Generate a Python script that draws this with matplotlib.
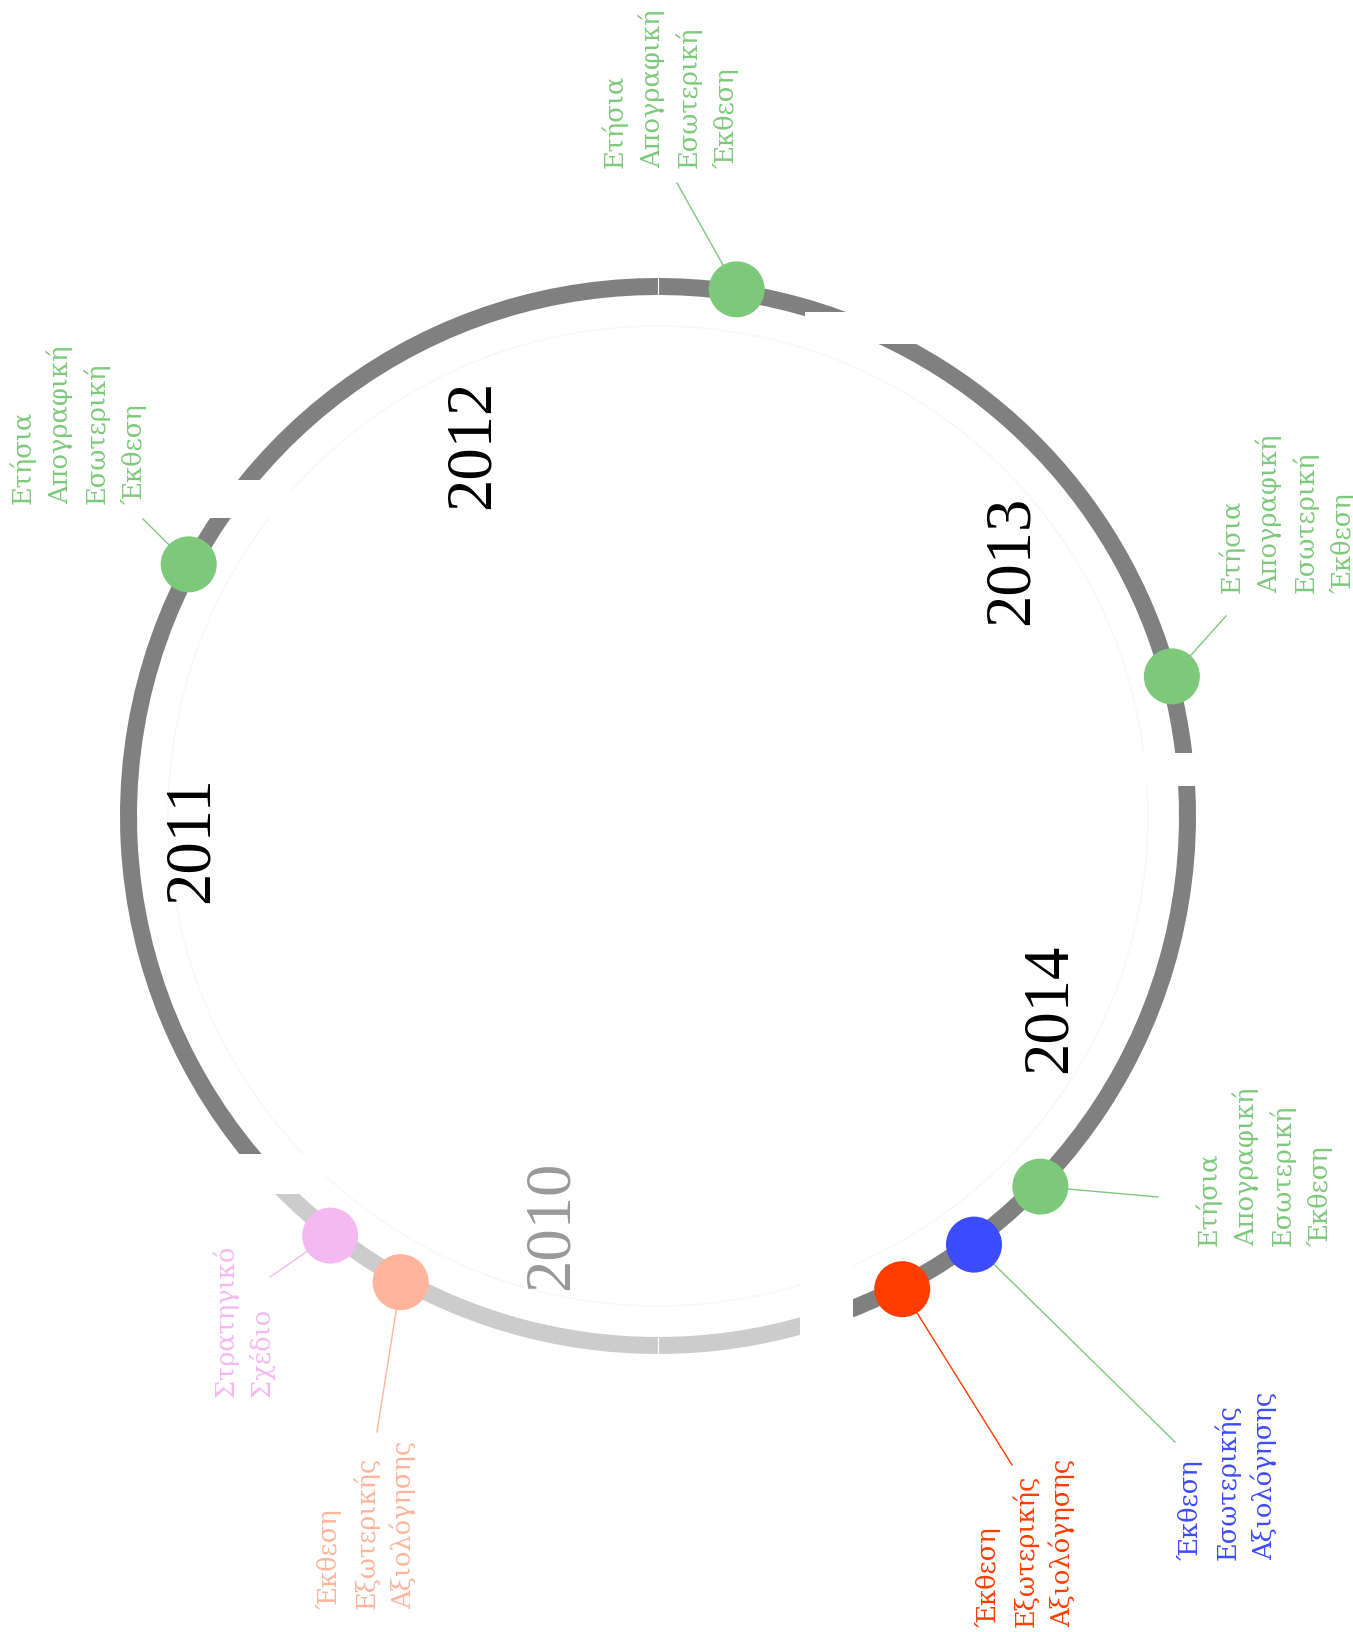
import numpy as np
import matplotlib
matplotlib.use('Agg')
import matplotlib.pyplot as plt
from matplotlib.patches import Wedge, Circle, Rectangle

# --- data (angles in screen degrees, clockwise from 3 o'clock) ---
years = ['2010', '2011', '2012', '2013', '2014']
year_bounds = [71.4, 137.5, 216.8, 292.7, 355.0, 431.4]   # start of each year, end of last
year_past = [True, False, False, False, False]

event_labels = [
    'Έκθεση\nΕξωτερικής\nΑξιολόγησης',
    'Στρατηγικό\nΣχέδιο',
    'Ετήσια\nΑπογραφική\nΕσωτερική\nΈκθεση',
    'Ετήσια\nΑπογραφική\nΕσωτερική\nΈκθεση',
    'Ετήσια\nΑπογραφική\nΕσωτερική\nΈκθεση',
    'Ετήσια\nΑπογραφική\nΕσωτερική\nΈκθεση',
    'Έκθεση\nΕσωτερικής\nΑξιολόγησης',
    'Έκθεση\nΕξωτερικής\nΑξιολόγησης',
]
event_angles = [118.9, 128.0, 208.2, 278.5, 344.8, 404.1, 413.6, 422.7]
event_colors = ['#ffb59b', '#f4b9f0', '#7dc97a', '#7dc97a', '#7dc97a', '#7dc97a', '#3d4bff', '#ff3d00']
leader_colors = ['#ffb59b', '#f4b9f0', '#7dc97a', '#7dc97a', '#7dc97a', '#7dc97a', '#7dc97a', '#ff3d00']

# --- layout (pixels, y down) ---
W, H = 1353, 1632
cx, cy = 658, 816
r_out, ring_w = 538, 17
r_mid = r_out - ring_w / 2
marker_r = 28

# gaps between years: (angle, size, orientation of the white band)
gaps = [(71.4, 53, 'v'), (137.5, 40, 'h'), (216.8, 38, 'h'), (292.7, 32, 'h'), (355.0, 33, 'h')]

# leader end points and label corners (lower left of rotated text box)
leader_ends = [(377, 1432), (270, 1277), (143, 519), (677, 183), (1226, 616), (1158, 1197), (1175, 1442), (1012, 1465)]
label_corner = [(316, 1609), (212, 1397), (9, 504), (601, 168), (1218, 593), (1195, 1246), (1177, 1560), (975, 1627)]
year_pos = [(552, 1225), (192, 840), (473, 444), (1012, 560), (1050, 1008)]


def polar(angle, r):
    a = np.radians(angle)
    return cx + r * np.cos(a), cy + r * np.sin(a)


fig = plt.figure(figsize=(W / 100, H / 100), dpi=100)
ax = fig.add_axes([0, 0, 1, 1])
ax.set_xlim(0, W)
ax.set_ylim(H, 0)
ax.axis('off')

# faint guide circle
ax.add_patch(Circle((cx, cy), 490, fill=False, ec='#f7f7f7', lw=1, zorder=0))

# year arcs
for i, yr in enumerate(years):
    col = '#cccccc' if year_past[i] else '#808080'
    ax.add_patch(Wedge((cx, cy), r_out, year_bounds[i], year_bounds[i + 1],
                       width=ring_w, fc=col, ec='none', zorder=1))

# white gaps cut across the ring
for ang, size, orient in gaps:
    gx, gy = polar(ang, r_mid)
    if orient == 'h':
        ax.add_patch(Rectangle((gx - 57, gy - size / 2), 114, size, fc='white', ec='none', zorder=2))
    else:
        ax.add_patch(Rectangle((gx - size / 2, gy - 57), size, 114, fc='white', ec='none', zorder=2))

# hairline joins at top and bottom
for ang in [90, 270]:
    x0, y0 = polar(ang, r_out - ring_w - 1)
    x1, y1 = polar(ang, r_out + 1)
    ax.plot([x0, x1], [y0, y1], color='white', lw=0.8, zorder=2)

# events
for i, lab in enumerate(event_labels):
    mx, my = polar(event_angles[i], r_mid + 3)
    ex, ey = leader_ends[i]
    ax.plot([mx, ex], [my, ey], color=leader_colors[i], lw=1, zorder=3)
    ax.add_patch(Circle((mx, my), marker_r, fc=event_colors[i], ec='none', zorder=4))
    tx, ty = label_corner[i]
    ax.text(tx, ty, lab, rotation=90, ha='left', va='bottom', color=event_colors[i],
            fontsize=18.5, family='DejaVu Serif', linespacing=1.5, multialignment='left', zorder=5)

# year labels
for i, yr in enumerate(years):
    x, y = year_pos[i]
    ax.text(x, y, yr, rotation=90, ha='center', va='center', fontsize=46.5,
            family='Liberation Serif', color='#999999' if year_past[i] else 'black', zorder=5)

fig.savefig('out.png', dpi=100, facecolor='white')
